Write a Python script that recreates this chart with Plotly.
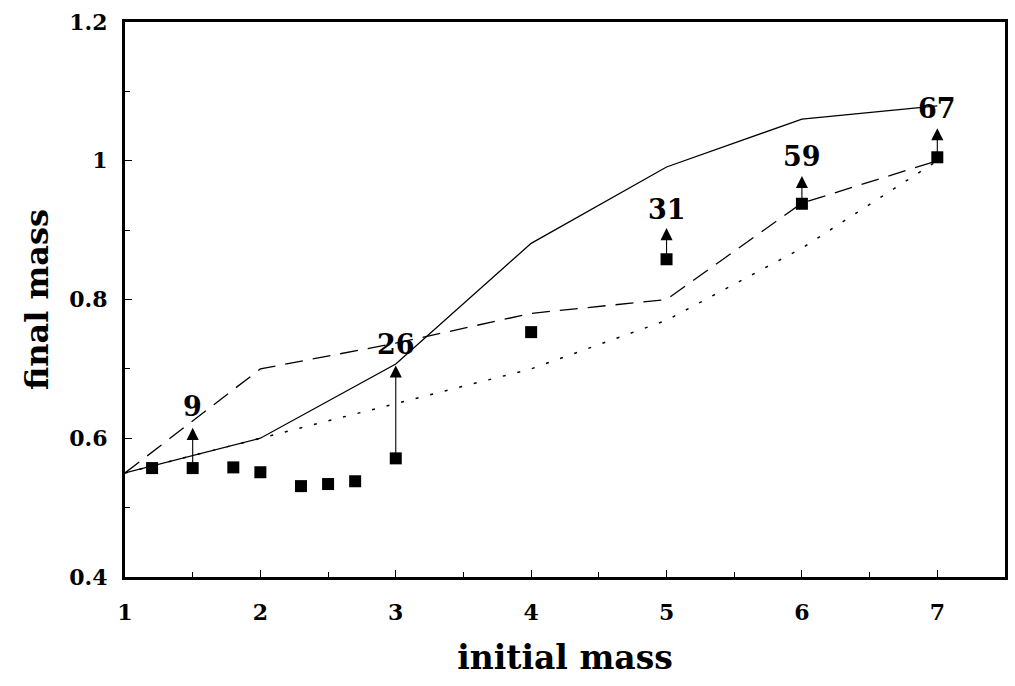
import plotly.graph_objects as go

# Model curves
model_x = [1, 2, 3, 4, 5, 6, 7]
solid_y = [0.55, 0.60, 0.707, 0.881, 0.991, 1.060, 1.079]
dashed_y = [0.55, 0.70, 0.737, 0.780, 0.800, 0.939, 1.000]
dotted_y = [0.55, 0.60, 0.651, 0.700, 0.770, 0.874, 1.000]

# Observed points
obs_x = [1.2, 1.5, 1.8, 2.0, 2.3, 2.5, 2.7, 3.0, 4.0, 5.0, 6.0, 7.0]
obs_y = [0.557, 0.557, 0.558, 0.551, 0.531, 0.534, 0.538, 0.571, 0.753, 0.858, 0.938, 1.005]

# Lower-limit arrows with labels
arrow_x = [1.5, 3.0, 5.0, 6.0, 7.0]
arrow_from = [0.557, 0.571, 0.858, 0.938, 1.005]
arrow_to = [0.615, 0.705, 0.903, 0.978, 1.047]
arrow_labels = ["9", "26", "31", "59", "67"]
label_y = [0.646, 0.735, 0.930, 1.006, 1.075]

x_ticks = [1, 2, 3, 4, 5, 6, 7]
y_ticks = [0.4, 0.6, 0.8, 1.0, 1.2]
y_tick_text = ["0.4", "0.6", "0.8", "1", "1.2"]

FONT = "DejaVu Serif"

fig = go.Figure()
fig.add_trace(go.Scatter(x=model_x, y=solid_y, mode="lines",
                         line=dict(color="black", width=1.3), showlegend=False))
fig.add_trace(go.Scatter(x=model_x, y=dashed_y, mode="lines",
                         line=dict(color="black", width=1.3, dash="18px,10px"), showlegend=False))
fig.add_trace(go.Scatter(x=model_x, y=dotted_y, mode="lines",
                         line=dict(color="black", width=1.5, dash="3px,12px"), showlegend=False))
fig.add_trace(go.Scatter(x=obs_x, y=obs_y, mode="markers",
                         marker=dict(symbol="square", size=12, color="black"), showlegend=False))

for xa, y0, y1, lab, ly in zip(arrow_x, arrow_from, arrow_to, arrow_labels, label_y):
    fig.add_annotation(x=xa, y=y1, ax=xa, ay=y0, xref="x", yref="y", axref="x", ayref="y",
                       showarrow=True, arrowhead=2, arrowsize=2.2, arrowwidth=1.1,
                       arrowcolor="black", text="")
    fig.add_annotation(x=xa, y=ly, xref="x", yref="y", text="<b>%s</b>" % lab,
                       showarrow=False, font=dict(family=FONT, size=27, color="black"))

axis_common = dict(showline=True, linecolor="black", linewidth=3, mirror=True,
                   ticks="inside", ticklen=7, tickwidth=1, tickcolor="black",
                   showgrid=False, zeroline=False,
                   tickfont=dict(family=FONT, size=22, color="black"))

fig.update_xaxes(range=[1, 7.5],
                 minor=dict(dtick=0.5, tick0=1, ticks="inside", ticklen=5, tickcolor="black", showgrid=False),
                 title=dict(text="<b>initial mass</b>", font=dict(family=FONT, size=33, color="black"),
                            standoff=22),
                 tickvals=x_ticks, ticktext=["<b>%d</b>" % v for v in x_ticks],
                 ticklabelstandoff=14,
                 **axis_common)
fig.update_yaxes(range=[0.4, 1.2],
                 minor=dict(dtick=0.1, tick0=0.4, ticks="inside", ticklen=5, tickcolor="black", showgrid=False),
                 tickvals=y_ticks,
                 ticktext=["<b>%s</b>" % t for t in y_tick_text],
                 ticklabelstandoff=10,
                 title=dict(text="<b>final mass</b>", font=dict(family=FONT, size=32, color="black"),
                            standoff=12),
                 **axis_common)

fig.update_layout(width=1015, height=686, margin=dict(l=125, r=7, t=22, b=109),
                  plot_bgcolor="white", paper_bgcolor="white")

fig.write_html("out.html")
